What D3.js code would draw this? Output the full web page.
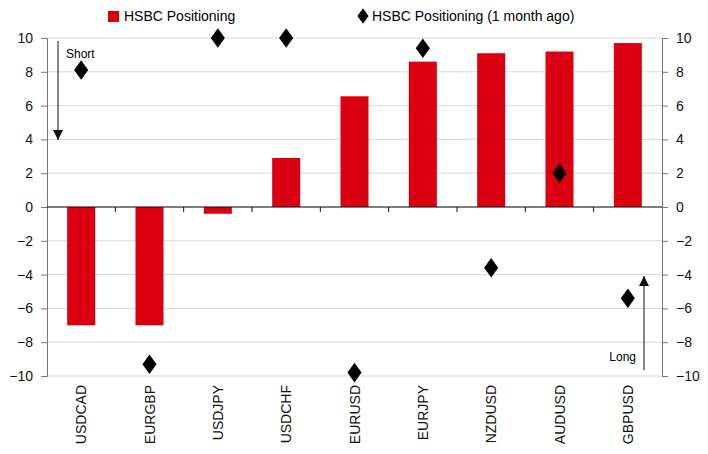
<!DOCTYPE html>
<html><head><meta charset="utf-8">
<script src="https://cdn.jsdelivr.net/npm/d3@7"></script>
<style>body{margin:0;background:#fff}text{font-family:"Liberation Sans",Arial,sans-serif}</style>
</head><body><svg id="c" width="708" height="454"></svg>
<script>
const categories = ["USDCAD","EURGBP","USDJPY","USDCHF","EURUSD","EURJPY","NZDUSD","AUDUSD","GBPUSD"];
const positioning = [-7.0,-7.0,-0.4,2.9,6.55,8.6,9.1,9.2,9.7];
const monthAgo = [8.1,-9.3,10,10,-9.8,9.4,-3.6,2.0,-5.4];
const ticks = [-10,-8,-6,-4,-2,0,2,4,6,8,10];

const svg = d3.select("#c");
const L = 47, R = 662, T = 38, B = 376;
const x = d3.scaleBand().domain(categories).range([L, R]);
const y = d3.scaleLinear().domain([-10, 10]).range([B, T]);

// grid
svg.append("g").selectAll("line").data(ticks).enter().append("line")
  .attr("x1", L).attr("x2", R).attr("y1", d => y(d)).attr("y2", d => y(d))
  .attr("stroke", "#d9d9d9").attr("stroke-width", 1);

// axes
const la = svg.append("g").attr("transform", `translate(${L},0)`)
  .call(d3.axisLeft(y).tickValues(ticks).tickSize(6).tickPadding(8));
const ra = svg.append("g").attr("transform", `translate(${R},0)`)
  .call(d3.axisRight(y).tickValues(ticks).tickSize(6).tickPadding(8));
[la, ra].forEach(a => {
  a.select(".domain").attr("stroke", "#777");
  a.selectAll(".tick line").attr("stroke", "#777");
  a.selectAll("text").attr("font-size", 14).attr("fill", "#111");
});

// bars
svg.append("g").selectAll("rect").data(categories).enter().append("rect")
  .attr("x", (d, i) => x(d) + x.bandwidth() / 2 - 14)
  .attr("width", 28)
  .attr("y", (d, i) => y(Math.max(0, positioning[i])))
  .attr("height", (d, i) => Math.abs(y(positioning[i]) - y(0)))
  .attr("fill", "#db0011");

// zero line with category ticks
svg.append("line").attr("x1", L).attr("x2", R).attr("y1", y(0)).attr("y2", y(0)).attr("stroke", "#111");
svg.append("g").selectAll("line").data(categories.slice(1)).enter().append("line")
  .attr("x1", d => x(d)).attr("x2", d => x(d)).attr("y1", y(0)).attr("y2", y(0) + 5).attr("stroke", "#111");

// diamonds
const dia = d3.symbol().type(d3.symbolDiamond).size(110);
svg.append("g").selectAll("path").data(categories).enter().append("path")
  .attr("d", dia)
  .attr("transform", (d, i) => `translate(${x(d) + x.bandwidth() / 2},${y(monthAgo[i])}) scale(1.25,1)`)
  .attr("fill", "#000");

// category labels
svg.append("g").selectAll("text").data(categories).enter().append("text")
  .attr("transform", d => `translate(${x(d) + x.bandwidth() / 2 + 5},${B + 9}) rotate(-90)`)
  .attr("text-anchor", "end").attr("font-size", 14).attr("fill", "#111").text(d => d);

// arrows
function arrow(x0, y0, y1) {
  svg.append("line").attr("x1", x0).attr("x2", x0).attr("y1", y0).attr("y2", y1).attr("stroke", "#111");
  const dir = y1 > y0 ? 1 : -1;
  svg.append("path").attr("d", `M${x0 - 5},${y1 - dir * 10}L${x0 + 5},${y1 - dir * 10}L${x0},${y1}Z`).attr("fill", "#111");
}
arrow(58, 41, 140);
arrow(644, 370, 276);
svg.append("text").attr("x", 66).attr("y", 58).attr("font-size", 12).text("Short");
svg.append("text").attr("x", 636).attr("y", 361).attr("text-anchor", "end").attr("font-size", 12).text("Long");

// legend
svg.append("rect").attr("x", 108).attr("y", 11).attr("width", 11).attr("height", 11).attr("fill", "#db0011");
svg.append("text").attr("x", 124).attr("y", 21).attr("font-size", 14).text("HSBC Positioning");
svg.append("path").attr("d", d3.symbol().type(d3.symbolDiamond).size(70)).attr("transform", "translate(363,16) scale(1.25,1)");
svg.append("text").attr("x", 372).attr("y", 21).attr("font-size", 14).text("HSBC Positioning (1 month ago)");
</script></body></html>
